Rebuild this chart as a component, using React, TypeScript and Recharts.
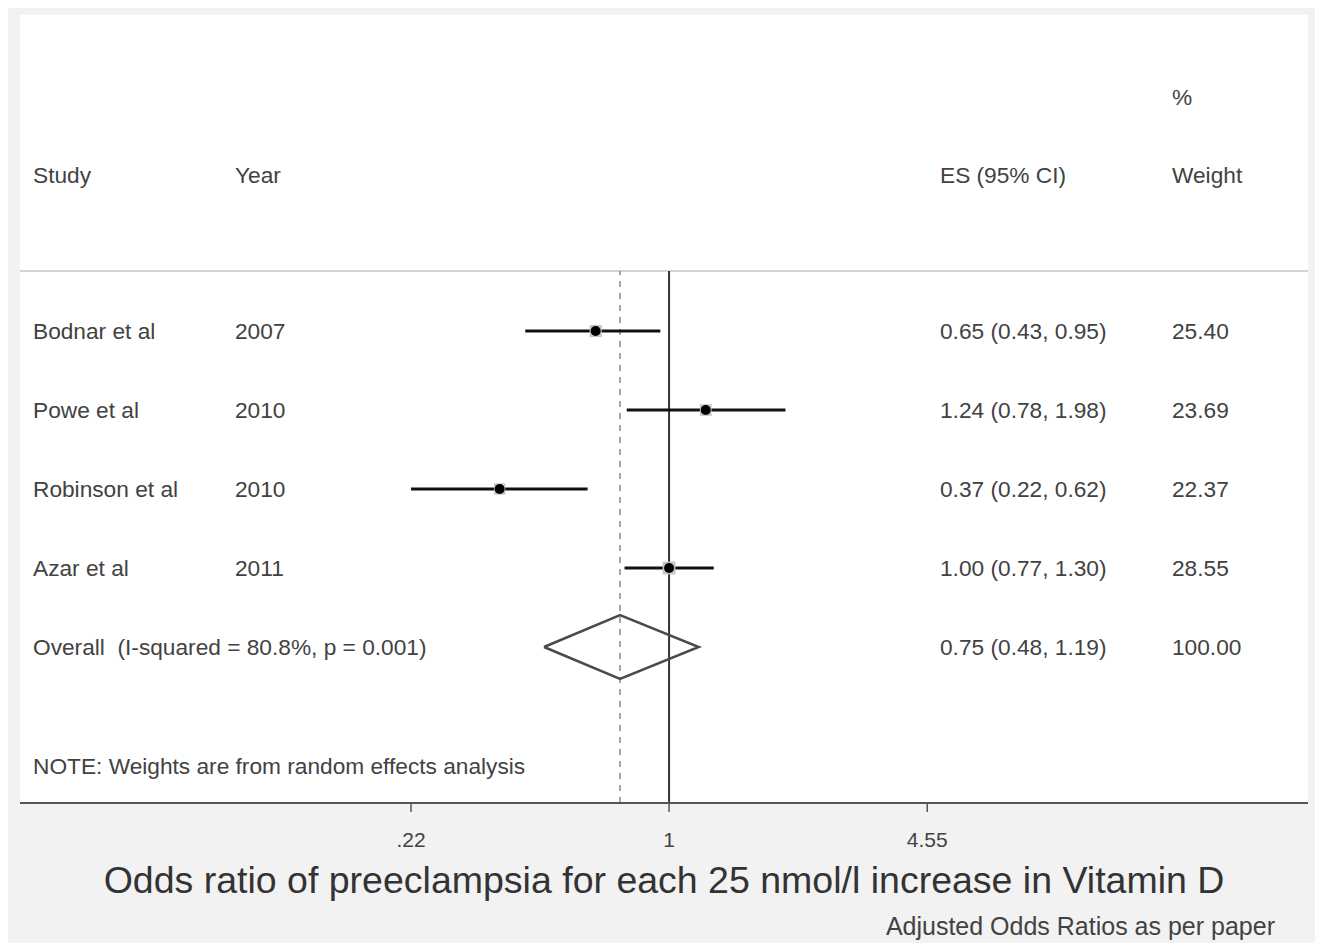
import React from 'react';
import { ComposedChart, XAxis, YAxis, Scatter, ReferenceLine } from 'recharts';

const studies = ['Bodnar et al', 'Powe et al', 'Robinson et al', 'Azar et al'];
const years = ['2007', '2010', '2010', '2011'];
const estimates = [0.65, 1.24, 0.37, 1.0];
const ciLow = [0.43, 0.78, 0.22, 0.77];
const ciHigh = [0.95, 1.98, 0.62, 1.3];
const weights = [25.4, 23.69, 22.37, 28.55];

const overallLabel = 'Overall  (I-squared = 80.8%, p = 0.001)';
const overallEs = 0.75;
const overallLow = 0.48;
const overallHigh = 1.19;
const overallWeight = 100.0;

const xTicks = [0.22, 1, 4.55];
const xTickLabels = ['.22', '1', '4.55'];

const W = 1315;
const H = 937;
const FONT = '"Liberation Sans", Arial, sans-serif';
const TEXT = '#424242';

// axis extents so the log scale lands where the reference draws it
const X_MIN = 0.02217;
const X_MAX = 42.5;
const Y_TOP = -0.76;
const Y_BOTTOM = 5.975;
const DIAMOND_HALF = 0.405;

const fmt = (v: number) => v.toFixed(2);

const points = estimates.map((x, i) => ({ x, y: i, w: weights[i] }));
const overallRow = studies.length;
const diamond = [
  { x: overallLow, y: overallRow },
  { x: overallEs, y: overallRow - DIAMOND_HALF },
  { x: overallHigh, y: overallRow },
  { x: overallEs, y: overallRow + DIAMOND_HALF },
  { x: overallLow, y: overallRow },
];
const rowTicks = [...studies.map((_, i) => i), overallRow];

function Marker(props: any) {
  const { cx, cy, payload } = props;
  const s = Math.sqrt(payload.w) * 2.4;
  return (
    <g>
      <rect x={cx - s / 2} y={cy - s / 2} width={s} height={s} fill="#c4c4c4" />
      <circle cx={cx} cy={cy} r={5} fill="#000" />
    </g>
  );
}

function RowTick(props: any) {
  const { y, payload } = props;
  const i = payload.value as number;
  const base = y + 8;
  const common = { fontFamily: FONT, fontSize: 22.7, fill: TEXT };
  if (i === overallRow) {
    return (
      <g>
        <text x={26} y={base} {...common} style={{ whiteSpace: 'pre' }}>
          {overallLabel}
        </text>
        <text x={933} y={base} {...common}>
          {`${fmt(overallEs)} (${fmt(overallLow)}, ${fmt(overallHigh)})`}
        </text>
        <text x={1165} y={base} {...common}>
          {fmt(overallWeight)}
        </text>
      </g>
    );
  }
  return (
    <g>
      <text x={26} y={base} {...common}>
        {studies[i]}
      </text>
      <text x={228} y={base} {...common}>
        {years[i]}
      </text>
      <text x={933} y={base} {...common}>
        {`${fmt(estimates[i])} (${fmt(ciLow[i])}, ${fmt(ciHigh[i])})`}
      </text>
      <text x={1165} y={base} {...common}>
        {fmt(weights[i])}
      </text>
    </g>
  );
}

function XTick(props: any) {
  const { x, payload, index } = props;
  return (
    <text x={x} y={840} textAnchor="middle" fontFamily={FONT} fontSize={21} fill={TEXT}>
      {xTickLabels[index] ?? String(payload.value)}
    </text>
  );
}

export default function App() {
  return (
    <div style={{ position: 'relative', width: W, height: H, margin: '-1px 0 0 -1px', background: '#f2f2f2' }}>
      <div style={{ position: 'absolute', left: 13, top: 8, width: 1288, height: 788, background: '#fff' }} />
      <div style={{ position: 'absolute', left: 0, top: 0 }}>
        <ComposedChart width={W} height={H} margin={{ top: 264, right: 14, bottom: 111, left: 12 }}>
          <XAxis
            type="number"
            dataKey="x"
            scale="log"
            domain={[X_MIN, X_MAX]}
            allowDataOverflow
            ticks={xTicks}
            interval={0}
            height={30}
            tick={XTick}
            tickSize={9}
            axisLine={{ stroke: '#555', strokeWidth: 2 }}
            tickLine={{ stroke: '#555', strokeWidth: 1.5 }}
          />
          <YAxis
            type="number"
            dataKey="y"
            domain={[Y_TOP, Y_BOTTOM]}
            allowDataOverflow
            reversed
            width={1}
            ticks={rowTicks}
            interval={0}
            tick={RowTick}
            axisLine={false}
            tickLine={false}
          />
          <ReferenceLine y={Y_TOP} stroke="#d4d4d4" strokeWidth={2} ifOverflow="visible" />
          <ReferenceLine x={overallEs} stroke="#8a8a8a" strokeWidth={1.5} strokeDasharray="6 6" />
          <ReferenceLine x={1} stroke="#333" strokeWidth={2} />
          {estimates.map((_, i) => (
            <ReferenceLine
              key={i}
              segment={[
                { x: ciLow[i], y: i },
                { x: ciHigh[i], y: i },
              ]}
              stroke="#111"
              strokeWidth={3}
            />
          ))}
          <Scatter
            data={diamond}
            line={{ stroke: '#4a4a4a', strokeWidth: 2.5 }}
            lineType="joint"
            shape={() => <g />}
            isAnimationActive={false}
          />
          <Scatter data={points} shape={Marker} isAnimationActive={false} />
        </ComposedChart>
      </div>
      <svg width={W} height={H} style={{ position: 'absolute', left: 0, top: 0, pointerEvents: 'none' }}>
        <g fontFamily={FONT} fontSize={22.7} fill={TEXT}>
          <text x={1165} y={98}>%</text>
          <text x={26} y={176}>Study</text>
          <text x={228} y={176}>Year</text>
          <text x={933} y={176}>ES (95% CI)</text>
          <text x={1165} y={176}>Weight</text>
          <text x={26} y={767}>NOTE: Weights are from random effects analysis</text>
        </g>
        <text x={657} y={886} textAnchor="middle" fontFamily={FONT} fontSize={37.5} fill="#333">
          Odds ratio of preeclampsia for each 25 nmol/l increase in Vitamin D
        </text>
        <text x={1268} y={928} textAnchor="end" fontFamily={FONT} fontSize={25} fill={TEXT}>
          Adjusted Odds Ratios as per paper
        </text>
      </svg>
    </div>
  );
}
